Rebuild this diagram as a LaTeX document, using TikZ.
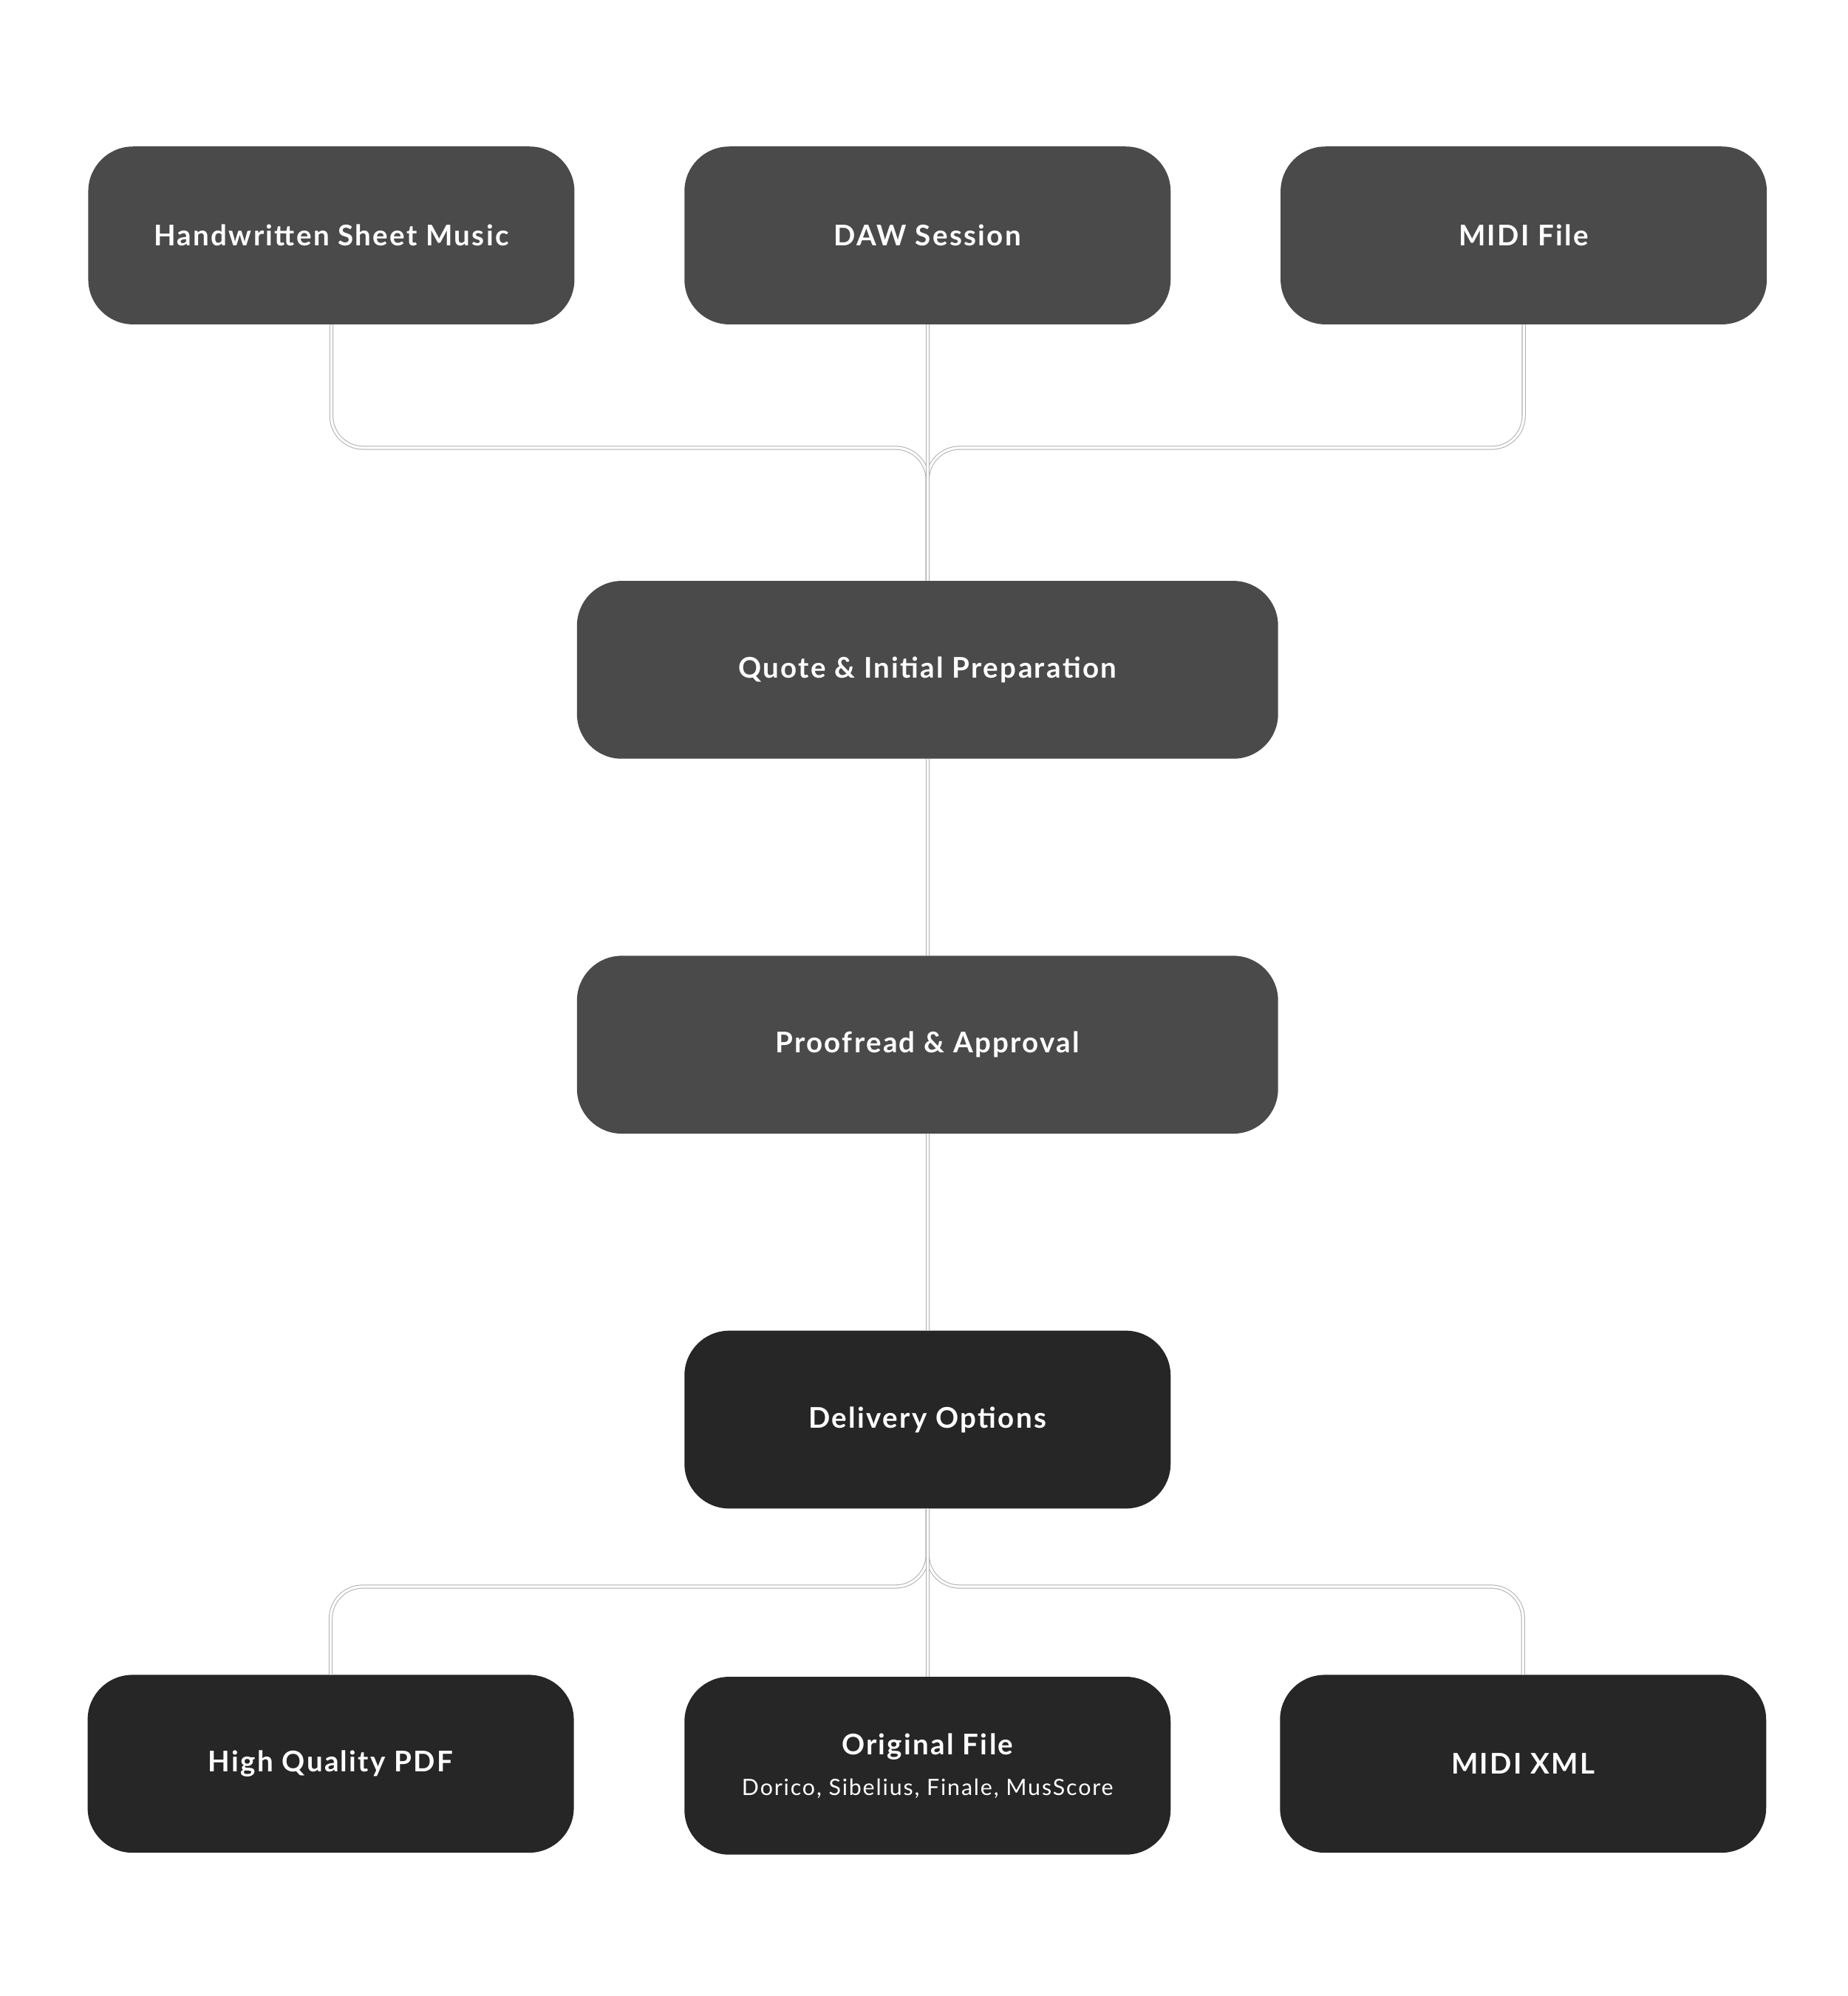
\documentclass[tikz,border=0pt]{standalone}
\usepackage{fontspec}
\setmainfont{Lato}[LetterSpace=6]
\begin{document}
\begin{tikzpicture}[x=0.03cm,y=-0.03cm]
%Define all colors here.
\definecolor{stepfill}{RGB}{74,74,74}
\definecolor{outfill}{RGB}{38,38,38}
\definecolor{conndraw}{RGB}{175,175,175}
\tikzset{
  flowbox/.style={rectangle, rounded corners=1.05cm, minimum width=11.4cm, minimum height=4.17cm, text=white, font=\fontsize{19}{23}\selectfont\bfseries, align=center, inner sep=0pt},
  stagebox/.style={flowbox, fill=stepfill},
  widebox/.style={stagebox, minimum width=16.44cm},
  outbox/.style={flowbox, fill=outfill},
  conn/.style={draw=conndraw, double=white, double distance=1.6pt, line width=0.5pt, rounded corners=0.75cm}
}
\useasboundingbox (0,0) rectangle (1444,1560);

\node(hw) at (259,184) [stagebox] {Handwritten Sheet Music};
\node(daw) at (725,184) [stagebox] {DAW Session};
\node(midi) at (1191,184) [stagebox] {MIDI File};

\node(quote) at (725,523.5) [widebox] {Quote \& Initial Preparation};
\node(proof) at (725,816.5) [widebox] {Proofread \& Approval};

\node(deliv) at (725,1109.5) [outbox] {Delivery Options};

\node(pdf) at (258.5,1378.5) [outbox] {High Quality PDF};
\node(orig) at (725,1380) [outbox] {Original File\\[4pt]{\fontsize{15}{18}\selectfont\mdseries Dorico, Sibelius, Finale, MusScore}};
\node(mxml) at (1190.5,1378.5) [outbox] {MIDI XML};

\coordinate(jt) at (725,350);
\coordinate(jb) at (725,1240);

\draw[conn] (hw.south) -- (hw.south |- jt) -- (jt) -- (quote.north);
\draw[conn] (midi.south) -- (midi.south |- jt) -- (jt) -- (quote.north);
\draw[conn] (daw.south) -- (quote.north);
\draw[conn] (quote.south) -- (proof.north);
\draw[conn] (proof.south) -- (deliv.north);
\draw[conn] (deliv.south) -- (jb) -- (pdf.north |- jb) -- (pdf.north);
\draw[conn] (deliv.south) -- (jb) -- (mxml.north |- jb) -- (mxml.north);
\draw[conn] (deliv.south) -- (orig.north);
\end{tikzpicture}
\end{document}
